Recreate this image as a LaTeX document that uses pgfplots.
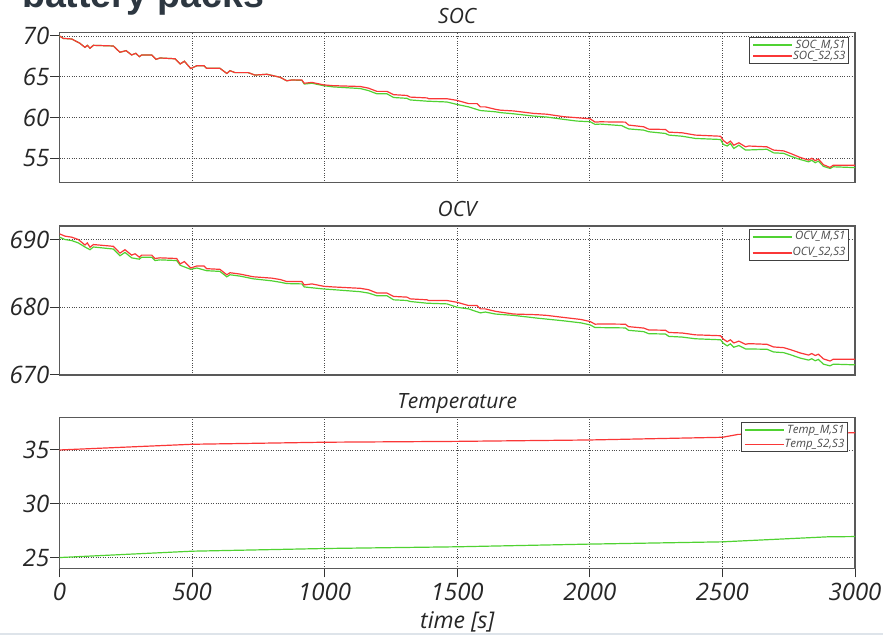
\documentclass[border=0pt]{standalone}
\usepackage{pgfplots}
\pgfplotsset{compat=1.18}
\usepackage{fontspec}
\setmainfont{Open Sans}
\newfontfamily\headfont{Liberation Sans}
\definecolor{gline}{RGB}{80,210,50}
\definecolor{rline}{RGB}{250,55,55}
\definecolor{headc}{RGB}{45,55,65}
\definecolor{bandc}{RGB}{222,228,234}
\pgfplotsset{
 panel/.style={
  scale only axis, width=795.5pt, anchor=south west,
  xmin=0, xmax=3000, xtick={0,500,...,3000},
  grid=major, major grid style={dotted, line width=0.9pt, black!70},
  axis line style={line width=1.2pt, black!65},
  tick align=outside, xtick pos=bottom, ytick pos=left,
  major tick length=9pt, tick style={line width=1pt, black!80},
  ticklabel style={font=\itshape\fontsize{24}{24}\selectfont, text=black!85},
  /pgf/number format/assume math mode=true,
  /pgf/number format/1000 sep={},
  yticklabel style={inner sep=1pt},
  xticklabel style={yshift=-2pt},
  title style={at={(0.5,1)}, anchor=base, yshift=3pt, font=\itshape\fontsize{21}{21}\selectfont, text=black!85},
  legend cell align=right,
  legend image code/.code={\draw[#1, line width=1.3pt] (0pt,0pt) -- (29pt,0pt); \path (0pt,0pt) -- (39pt,0pt);},
  legend style={anchor=north east, draw=black!75, line width=1pt, fill=white,
    font=\itshape\fontsize{11.5}{12}\selectfont, text=black!70,
    inner xsep=3pt, inner ysep=2pt,
    nodes={inner sep=0pt, text height=8.5pt, text depth=2.5pt}},
 },
 gl/.style={gline, line width=1.2pt},
 rl/.style={rline, line width=1.2pt},
}
\begin{document}
\begin{tikzpicture}
\path[use as bounding box] (0pt,0pt) rectangle (883pt,635pt);
\begin{scope}
\clip (0pt,0pt) rectangle (883pt,635pt);
\node[anchor=base west, inner sep=0pt, font=\headfont\bfseries\fontsize{37.5}{37.5}\selectfont, text=headc] at (22pt,627.5pt) {battery packs};
\fill[bandc] (0pt,0pt) rectangle (883pt,2pt);
\end{scope}

% SOC
\begin{axis}[panel, at={(59.5pt,452.3pt)}, height=150pt, ymin=52, ymax=70.4,
  ytick={55,60,65,70}, xticklabels={}, xtick style={draw=none}, title={SOC},
  legend style={at={(0.9925,0.971)}, row sep=0pt}]
\addplot[gl] coordinates {
(0,70.0)(14,69.7)(46,69.63)(77,69.1)(96,68.6)(105,68.85)(115,68.5)(128,68.85)(203,68.77)(228,68.0)(251,68.2)(272,67.67)(288,67.87)(301,67.46)(310,67.67)(348,67.67)(364,67.13)(379,67.3)(436,67.2)(455,66.56)(471,66.9)(495,66.0)(518,66.35)(545,66.35)(555,66.03)(605,66.03)(631,65.4)(643,65.74)(662,65.5)(712,65.5)(737,65.2)(782,65.3)(832,64.93)(857,64.5)(876,64.6)
(914,64.55)(923,64.1)(952,64.2)(996,63.9)(1033,63.75)(1134,63.55)(1165,63.3)(1197,62.9)(1235,62.9)(1260,62.45)(1310,62.35)(1323,62.15)(1386,62.0)(1461,61.9)(1499,61.6)(1543,61.3)(1587,60.85)(1644,60.7)(1662,60.6)(1713,60.45)(1788,60.17)(1838,60.05)(1901,59.77)(1951,59.56)(2001,59.48)(2020,59.15)(2039,59.19)(2120,59.0)(2134,58.78)(2146,58.6)(2203,58.45)(2222,58.25)(2285,58.04)(2298,57.84)(2348,57.7)(2398,57.43)(2493,57.3)(2503,56.7)(2518,56.5)(2530,56.8)(2543,56.2)(2562,56.6)(2587,56.0)(2668,56.1)(2693,55.66)(2731,55.6)(2756,55.26)(2793,54.85)(2825,54.56)(2837,54.75)(2850,54.45)(2862,54.65)(2881,54.0)(2906,53.75)(2918,53.95)(3000,53.85)};
\addlegendentry{SOC\_M,S1}
\addplot[rl] coordinates {
(0,70.0)(14,69.7)(46,69.63)(77,69.1)(96,68.6)(105,68.85)(115,68.5)(128,68.85)(203,68.77)(228,68.0)(251,68.2)(272,67.67)(288,67.87)(301,67.46)(310,67.67)(348,67.67)(364,67.13)(379,67.3)(436,67.2)(455,66.56)(471,66.9)(495,66.0)(518,66.35)(545,66.35)(555,66.03)(605,66.03)(631,65.4)(643,65.74)(662,65.5)(712,65.5)(737,65.2)(782,65.3)(832,64.93)(857,64.5)(876,64.6)
(914,64.6)(923,64.2)(952,64.3)(996,64.0)(1033,63.9)(1134,63.8)(1165,63.6)(1197,63.2)(1235,63.2)(1260,62.8)(1310,62.7)(1323,62.5)(1386,62.4)(1392,62.3)(1461,62.3)(1499,62.1)(1543,61.7)(1575,61.7)(1587,61.3)(1606,61.3)(1644,61.0)(1662,60.9)(1713,60.8)(1788,60.5)(1838,60.4)(1901,60.1)(1951,59.97)(2001,59.84)(2020,59.43)(2039,59.47)(2134,59.43)(2146,59.07)(2203,58.86)(2222,58.57)(2285,58.53)(2298,58.2)(2348,58.12)(2398,57.84)(2493,57.7)(2503,57.2)(2518,56.8)(2530,57.1)(2543,56.6)(2562,56.9)(2587,56.4)(2599,56.5)(2668,56.4)(2693,56.0)(2731,55.9)(2756,55.6)(2793,55.1)(2825,54.77)(2837,55.0)(2850,54.7)(2862,54.9)(2881,54.2)(2906,53.87)(2918,54.15)(3000,54.15)};
\addlegendentry{SOC\_S2,S3}
\end{axis}

% OCV
\begin{axis}[panel, at={(59.5pt,260pt)}, height=149pt, ymin=670, ymax=692,
  ytick={670,680,690}, xticklabels={}, xtick style={draw=none}, title={OCV},
  legend style={at={(0.9925,0.98)}, row sep=5pt}]
\addplot[gl] coordinates {
(0,690.35)(21,690.0)(46,689.85)(71,689.5)(96,688.9)(115,688.5)(128,688.9)(203,688.6)(228,687.6)(247,688.1)(272,687.3)(301,687.1)(310,687.4)(348,687.4)(360,686.9)(379,687.0)(442,686.9)(455,686.2)(495,685.6)(518,685.8)(555,685.4)(605,685.3)(631,684.5)(643,684.8)(681,684.6)(731,684.2)(801,683.9)(832,683.7)(857,683.5)(914,683.45)(923,683.0)(996,682.7)(1033,682.6)(1134,682.3)(1165,682.1)(1197,681.7)(1235,681.7)(1260,681.1)(1310,681.0)(1323,680.85)(1386,680.6)(1461,680.5)(1499,680.0)(1543,679.76)(1587,679.17)(1606,679.3)(1644,679.0)(1713,678.8)(1801,678.4)(1901,678.0)(1966,677.7)
(2001,677.4)(2020,677.0)(2039,677.0)(2134,676.95)(2146,676.6)(2203,676.4)(2222,676.1)(2285,676.05)(2298,675.7)(2348,675.6)(2398,675.35)(2493,675.2)(2503,674.7)(2518,674.3)(2530,674.6)(2543,674.1)(2562,674.35)(2587,673.85)(2668,673.8)(2693,673.4)(2731,673.3)(2756,673.0)(2793,672.5)(2825,672.2)(2837,672.4)(2850,672.1)(2862,672.3)(2881,671.6)(2906,671.35)(2918,671.6)(3000,671.5)};
\addlegendentry{OCV\_M,S1}
\addplot[rl] coordinates {
(0,690.84)(21,690.5)(46,690.35)(71,690.0)(96,689.2)(105,689.5)(115,688.87)(128,689.26)(203,689.0)(228,688.0)(247,688.5)(272,687.7)(285,687.9)(301,687.4)(310,687.7)(348,687.7)(360,687.2)(379,687.3)(442,687.2)(455,686.4)(471,686.75)(495,685.8)(518,686.1)(545,686.1)(555,685.7)(605,685.6)(631,684.8)(643,685.1)(681,684.9)(731,684.5)(801,684.3)(832,684.1)(857,683.8)(914,683.8)(923,683.3)(952,683.45)(996,683.1)(1033,683.0)(1134,682.8)(1165,682.6)(1197,682.1)(1235,682.1)(1260,681.6)(1310,681.5)(1323,681.24)(1386,681.1)(1392,681.0)(1461,681.0)(1499,680.74)(1543,680.25)(1575,680.25)(1587,679.76)(1606,679.76)(1644,679.4)(1713,679.0)(1801,678.9)(1838,678.8)(1901,678.5)(1966,678.2)
(2001,677.9)(2020,677.5)(2039,677.54)(2134,677.5)(2146,677.14)(2203,676.93)(2222,676.65)(2285,676.61)(2298,676.28)(2348,676.2)(2398,675.93)(2493,675.8)(2503,675.31)(2518,674.92)(2530,675.2)(2543,674.73)(2562,675.0)(2587,674.53)(2599,674.63)(2668,674.53)(2693,674.14)(2731,674.04)(2756,673.75)(2793,673.26)(2825,672.94)(2837,673.17)(2850,672.87)(2862,673.07)(2881,672.38)(2906,672.06)(2918,672.33)(3000,672.33)};
\addlegendentry{OCV\_S2,S3}
\end{axis}

% Temperature
\begin{axis}[panel, at={(59.5pt,66.7pt)}, height=150.6pt, ymin=24, ymax=38,
  ytick={25,30,35}, title={Temperature},
  xlabel={time [s]},
  xlabel style={at={(0.5,0)}, anchor=center, yshift=-54pt, font=\itshape\fontsize{23}{23}\selectfont, text=black!85},
  legend style={at={(0.991,0.971)}, row sep=3.3pt}]
\addplot[gl] coordinates {(0,25.0)(500,25.59)(1000,25.84)(1500,26.0)(2000,26.25)(2500,26.46)(2900,26.93)(3000,26.95)};
\addlegendentry{Temp\_M,S1}
\addplot[rl] coordinates {(0,35.0)(500,35.53)(1000,35.72)(1500,35.8)(2000,35.93)(2500,36.18)(2560,36.45)(3000,36.6)};
\addlegendentry{Temp\_S2,S3}
\end{axis}
\end{tikzpicture}
\end{document}
